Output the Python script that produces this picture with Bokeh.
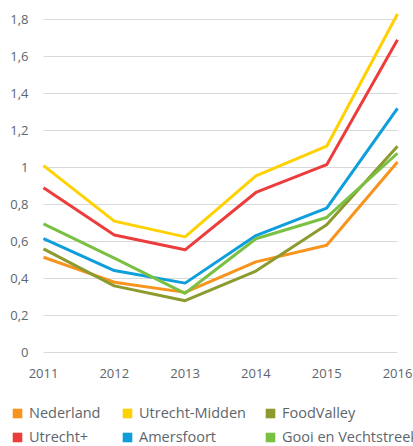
from bokeh.plotting import figure
from bokeh.models import (ColumnDataSource, Range1d, FixedTicker, CustomJSTickFormatter,
                          Legend, LegendItem)
from bokeh.embed import file_html
from bokeh.resources import INLINE

years = [2011, 2012, 2013, 2014, 2015, 2016]
nederland = [0.515, 0.38, 0.325, 0.49, 0.58, 1.03]
utrecht_midden = [1.01, 0.71, 0.625, 0.955, 1.115, 1.83]
foodvalley = [0.56, 0.36, 0.28, 0.44, 0.69, 1.115]
utrecht_plus = [0.89, 0.635, 0.555, 0.865, 1.015, 1.69]
amersfoort = [0.615, 0.443, 0.375, 0.632, 0.78, 1.32]
gooi = [0.695, 0.51, 0.32, 0.615, 0.73, 1.077]

series_names = ["Nederland", "Utrecht-Midden", "FoodValley", "Utrecht+", "Amersfoort",
                "Gooi en Vechtstreek"]
series_values = [nederland, utrecht_midden, foodvalley, utrecht_plus, amersfoort, gooi]
series_colors = ["#F7941D", "#FFD100", "#8C9A2E", "#EC3D3D", "#0E9EDB", "#7AC143"]
y_ticks = [0, 0.2, 0.4, 0.6, 0.8, 1.0, 1.2, 1.4, 1.6, 1.8]

FONT = "Open Sans"
GRAY = "#5d666d"

W, H = 413, 446
px_per_year = 70.8
px_per_unit = 185.0
x0_px, y0_px = 43, 352
x_start = years[0] - x0_px / px_per_year
x_end = x_start + W / px_per_year
y_start = -(H - y0_px) / px_per_unit
y_end = y_start + H / px_per_unit

p = figure(width=W, height=H, output_backend="svg", toolbar_location=None,
           x_range=Range1d(x_start, x_end), y_range=Range1d(y_start, y_end),
           min_border=0, min_border_left=0, min_border_right=0,
           min_border_top=0, min_border_bottom=0)
p.outline_line_color = None
p.background_fill_color = "white"
p.border_fill_color = "white"
p.xgrid.visible = False
p.ygrid.visible = False

# horizontal gridlines spanning 2011..2016
p.segment(x0=[years[0]] * len(y_ticks), x1=[years[-1]] * len(y_ticks),
          y0=y_ticks, y1=y_ticks, line_color="#d9d9d9", line_width=1)

p.yaxis.fixed_location = years[0]
p.xaxis.fixed_location = 0
p.yaxis.ticker = FixedTicker(ticks=y_ticks)
p.yaxis.formatter = CustomJSTickFormatter(
    code="return (Math.round(tick*10)/10).toString().replace('.', ',');")
p.xaxis.ticker = FixedTicker(ticks=years)
for ax in (p.xaxis[0], p.yaxis[0]):
    ax.axis_line_color = None
    ax.major_tick_line_color = None
    ax.minor_tick_line_color = None
    ax.major_label_text_font = FONT
    ax.major_label_text_font_size = "13px"
    ax.major_label_text_color = GRAY
p.yaxis.major_label_standoff = 9
p.xaxis.major_label_standoff = 10

nan = float("nan")
items = []
for name, vals, col in zip(series_names, series_values, series_colors):
    src = ColumnDataSource(dict(x=years, y=vals))
    p.line("x", "y", source=src, line_color=col, line_width=3)
    # legend swatch only: one undrawable (NaN) quad
    sw = ColumnDataSource(dict(l=[nan], r=[nan], b=[nan], t=[nan]))
    q = p.quad(left="l", right="r", bottom="b", top="t", source=sw,
               fill_color=col, line_color=None)
    items.append(LegendItem(label=name, renderers=[q]))

col_x = [11, 121, 264]
for c in range(3):
    lg = Legend(items=[items[c], items[c + 3]], orientation="vertical",
                location=(col_x[c], 0), margin=0, padding=0, spacing=5,
                glyph_width=12, glyph_height=12, label_standoff=6,
                label_height=18, label_text_font=FONT, label_text_font_size="14.5px",
                label_text_color=GRAY, border_line_color=None,
                background_fill_alpha=0)
    p.add_layout(lg, "center")

open("out.html", "w").write(file_html(p, INLINE))
